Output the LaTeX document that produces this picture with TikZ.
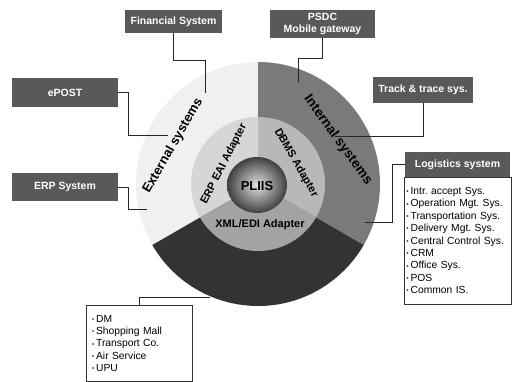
\documentclass[tikz,border=0pt]{standalone}
\usepackage{fontspec}
\setmainfont{Liberation Sans}
\frenchspacing
\newcommand\mybul{{\fontsize{6}{6}\selectfont\raisebox{0.8pt}{•}}\hspace{2pt}}
\begin{document}
\begin{tikzpicture}[x=1pt,y=1pt,
  sysbox/.style={fill=black!65, text=white, font=\fontsize{10.5}{12}\selectfont\bfseries, inner sep=0pt, align=center},
  listbox/.style={draw=black!80, line width=0.6pt, fill=white, inner xsep=2.5pt, inner ysep=0pt, align=left, font=\fontsize{10.3}{12.4}\selectfont},
  link/.style={draw=black!85, line width=0.6pt},
  ringlbl/.style={font=\fontsize{13}{15}\selectfont\bfseries},
  adlbl/.style={font=\fontsize{11}{13}\selectfont\bfseries}]
\useasboundingbox (0,0) rectangle (513,-382);
\coordinate (C) at (258,-184);
% outer ring sectors
\fill[black!6] (C) -- ++(90:122) arc[start angle=90, end angle=210, radius=122] -- cycle;
\fill[black!52] (C) -- ++(90:122) arc[start angle=90, end angle=-30, radius=122] -- cycle;
\fill[black!80] (C) -- ++(210:122) arc[start angle=210, end angle=330, radius=122] -- cycle;
% middle ring sectors
\fill[black!16] (C) -- ++(90:67) arc[start angle=90, end angle=210, radius=67] -- cycle;
\fill[black!28] (C) -- ++(90:67) arc[start angle=90, end angle=-30, radius=67] -- cycle;
\fill[black!36] (C) -- ++(210:67) arc[start angle=210, end angle=330, radius=67] -- cycle;
% core
\shade[inner color=black!12, outer color=black!75] (257,-185) ellipse [x radius=30, y radius=28];

% ring labels
\node[ringlbl, rotate=60] (ext) at (173,-146) {External systems};
\node[ringlbl, rotate=-54, font=\fontsize{13.5}{15}\selectfont\bfseries] (int) at (338,-140) {Internal systems};
\node[adlbl, rotate=63] (erpad) at (224,-164) {ERP EAI Adapter};
\node[adlbl, rotate=-60] (dbms) at (296,-163) {DBMS Adapter};
\node[adlbl] (xml) at (260,-225) {XML/EDI Adapter};
\node[font=\fontsize{13}{15}\selectfont\bfseries] (pliis) at (257,-186) {PLIIS};

% system boxes
\node[sysbox, minimum width=97pt, minimum height=23pt] (fin) at (173.5,-21.5) {Financial System};
\node[sysbox, minimum width=105pt, minimum height=28pt] (psdc) at (322.5,-24) {PSDC\\Mobile gateway};
\node[sysbox, minimum width=106pt, minimum height=29pt] (epost) at (65,-92.5) {ePOST};
\node[sysbox, minimum width=100pt, minimum height=26pt] (track) at (423,-90) {Track \& trace sys.};
\node[sysbox, minimum width=106pt, minimum height=28pt] (erp) at (65,-187) {ERP System};
\node[sysbox, minimum width=105pt, minimum height=25pt] (logi) at (457.5,-164.5) {Logistics system};

% list boxes
\node[listbox, text width=102pt, minimum height=127pt] (logilist) at (457.5,-240.5)
 {\mybul Intr. accept Sys.\\ \mybul Operation Mgt. Sys.\\ \mybul Transportation Sys.\\
  \mybul Delivery Mgt. Sys.\\ \mybul Central Control Sys.\\ \mybul CRM\\
  \mybul Office Sys.\\ \mybul POS\\ \mybul Common IS.};
\node[listbox, inner xsep=6pt, text width=94pt, minimum height=76pt] (bot) at (139,-343.5)
 {\mybul DM\\ \mybul Shopping Mall\\ \mybul Transport Co.\\ \mybul Air Service\\ \mybul UPU};

% connectors
\coordinate (fa) at (205,-60); \coordinate (fe) at (205,-93);
\draw[link] (fin.south) |- (fa) -- (fe);
\coordinate (eb) at (128,-135); \coordinate (ee) at (168,-135);
\draw[link] (epost.east) -| (eb) -- (ee);
\coordinate (rb) at (128,-209); \coordinate (re) at (147,-209);
\draw[link] (erp.east) -| (rb) -- (re);
\coordinate (pa) at (298,-58); \coordinate (pe) at (298,-82);
\draw[link] (psdc.south) |- (pa) -- (pe);
\coordinate (te) at (335,-136);
\draw[link] (track.south) |- (te);
\coordinate (la) at (392,-222); \coordinate (le) at (365,-222);
\draw[link] (logi.west) -| (la) -- (le);
\coordinate (be) at (210,-297);
\draw[link] (bot.north) |- (be);
\end{tikzpicture}
\end{document}
